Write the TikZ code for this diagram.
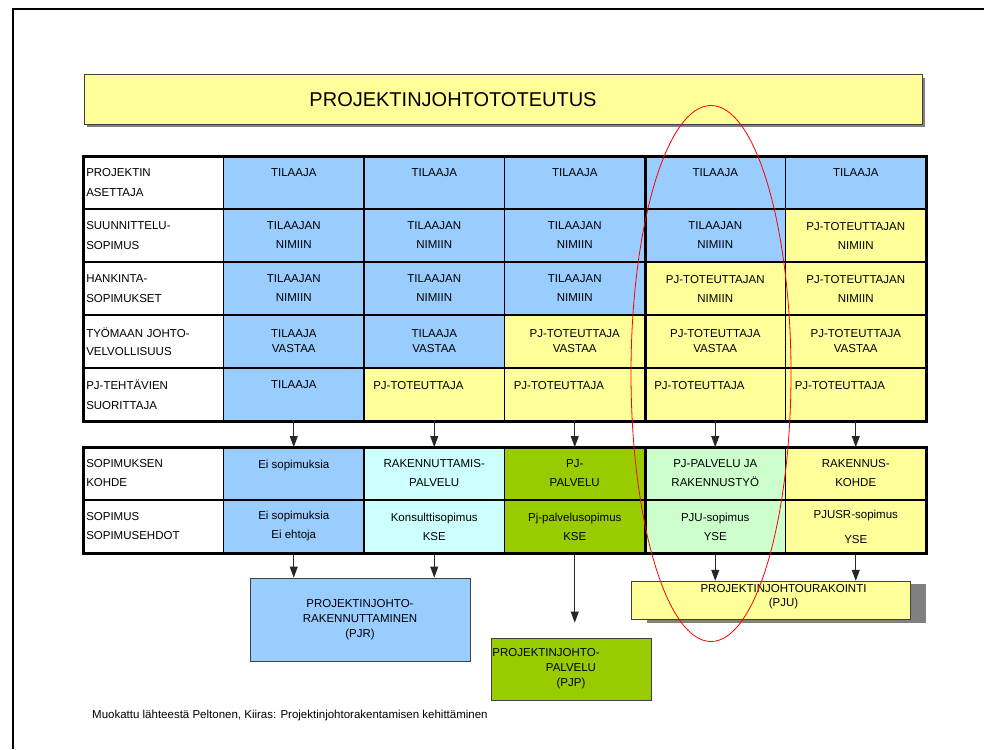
\documentclass[tikz,border=0pt]{standalone}
\usepackage{fontspec}
\setmainfont{Liberation Sans}
\usetikzlibrary{positioning}
\usetikzlibrary{arrows.meta}
\usetikzlibrary{shadows}
\definecolor{blu}{HTML}{99CCFF}
\definecolor{yel}{HTML}{FFFF99}
\definecolor{cyn}{HTML}{CCFFFF}
\definecolor{grn}{HTML}{99CC00}
\definecolor{lgr}{HTML}{CCFFCC}
\begin{document}
\begin{tikzpicture}[x=1pt,y=-1pt,
  cell/.style={draw,line width=1.5pt,outer sep=0pt,inner sep=0pt,minimum width=140.5pt,minimum height=53pt,align=center,font=\fontsize{11.5}{19}\selectfont},
  lab/.style={cell,fill=white,align=left,text width=134pt,font=\fontsize{11.5}{20}\selectfont},
  vas/.style={align=left,text width=122pt},
  tiivis/.style={font=\fontsize{11.5}{15}\selectfont},
  box/.style={draw=black!75,line width=0.8pt,align=center,font=\fontsize{11.5}{15}\selectfont},
  arr/.style={-{Triangle[width=8pt,length=11pt]},line width=0.8pt,black!85}]
  \useasboundingbox (0,0) rectangle (984,749);
  \draw[line width=2pt] (13,749) -- (13,9) -- (984,9);

  \node[box,fill=yel,line width=1pt,minimum width=838pt,minimum height=49pt,font=\fontsize{20}{24}\selectfont,
    drop shadow={shadow xshift=3pt,shadow yshift=-3pt,fill=gray,opacity=1}] (otsikko) at (503,99.5) {PROJEKTINJOHTOTOTEUTUS\hspace*{100pt}};

  \node[lab,anchor=north west] (pa0) at (83,156) {PROJEKTIN\\ASETTAJA};
  \node[cell,fill=blu,right=0pt of pa0] (pa1) {TILAAJA\\\mbox{}};
  \node[cell,fill=blu,right=0pt of pa1] (pa2) {TILAAJA\\\mbox{}};
  \node[cell,fill=blu,right=0pt of pa2] (pa3) {TILAAJA\\\mbox{}};
  \node[cell,fill=blu,right=0pt of pa3] (pa4) {TILAAJA\\\mbox{}};
  \node[cell,fill=blu,right=0pt of pa4] (pa5) {TILAAJA\\\mbox{}};

  \node[lab,below=0pt of pa0] (su0) {SUUNNITTELU-\\SOPIMUS};
  \node[cell,fill=blu,right=0pt of su0] (su1) {TILAAJAN\\NIMIIN};
  \node[cell,fill=blu,right=0pt of su1] (su2) {TILAAJAN\\NIMIIN};
  \node[cell,fill=blu,right=0pt of su2] (su3) {TILAAJAN\\NIMIIN};
  \node[cell,fill=blu,right=0pt of su3] (su4) {TILAAJAN\\NIMIIN};
  \node[cell,fill=yel,right=0pt of su4] (su5) {PJ-TOTEUTTAJAN\\NIMIIN};

  \node[lab,below=0pt of su0] (ha0) {HANKINTA-\\SOPIMUKSET};
  \node[cell,fill=blu,right=0pt of ha0] (ha1) {TILAAJAN\\NIMIIN};
  \node[cell,fill=blu,right=0pt of ha1] (ha2) {TILAAJAN\\NIMIIN};
  \node[cell,fill=blu,right=0pt of ha2] (ha3) {TILAAJAN\\NIMIIN};
  \node[cell,fill=yel,right=0pt of ha3] (ha4) {PJ-TOTEUTTAJAN\\NIMIIN};
  \node[cell,fill=yel,right=0pt of ha4] (ha5) {PJ-TOTEUTTAJAN\\NIMIIN};

  \node[lab,below=0pt of ha0,font=\fontsize{11.5}{18}\selectfont] (ty0) {TYÖMAAN JOHTO-\\VELVOLLISUUS};
  \node[cell,tiivis,fill=blu,right=0pt of ty0] (ty1) {TILAAJA\\VASTAA};
  \node[cell,tiivis,fill=blu,right=0pt of ty1] (ty2) {TILAAJA\\VASTAA};
  \node[cell,tiivis,fill=yel,right=0pt of ty2] (ty3) {PJ-TOTEUTTAJA\\VASTAA};
  \node[cell,tiivis,fill=yel,right=0pt of ty3] (ty4) {PJ-TOTEUTTAJA\\VASTAA};
  \node[cell,tiivis,fill=yel,right=0pt of ty4] (ty5) {PJ-TOTEUTTAJA\\VASTAA};

  \node[lab,below=0pt of ty0] (pj0) {PJ-TEHTÄVIEN\\SUORITTAJA};
  \node[cell,fill=blu,right=0pt of pj0] (pj1) {TILAAJA\\\mbox{}};
  \node[cell,vas,fill=yel,right=0pt of pj1] (pj2) {PJ-TOTEUTTAJA\\\mbox{}};
  \node[cell,vas,fill=yel,right=0pt of pj2] (pj3) {PJ-TOTEUTTAJA\\\mbox{}};
  \node[cell,vas,fill=yel,right=0pt of pj3] (pj4) {PJ-TOTEUTTAJA\\\mbox{}};
  \node[cell,vas,fill=yel,right=0pt of pj4] (pj5) {PJ-TOTEUTTAJA\\\mbox{}};

  \draw[line width=3pt] (pa0.north west) rectangle (pj5.south east);
  \draw[line width=3pt] (pa4.north west) -- (pj4.south west);

  \node[lab,below=26pt of pj0,font=\fontsize{11.5}{19}\selectfont] (ko0) {SOPIMUKSEN\\KOHDE};
  \node[cell,fill=blu,right=0pt of ko0] (ko1) {Ei sopimuksia\\\mbox{}};
  \node[cell,fill=cyn,right=0pt of ko1] (ko2) {RAKENNUTTAMIS-\\PALVELU};
  \node[cell,fill=grn,right=0pt of ko2] (ko3) {PJ-\\PALVELU};
  \node[cell,fill=lgr,right=0pt of ko3] (ko4) {PJ-PALVELU JA\\RAKENNUSTYÖ};
  \node[cell,fill=yel,right=0pt of ko4] (ko5) {RAKENNUS-\\KOHDE};

  \node[lab,below=0pt of ko0,font=\fontsize{11.5}{19}\selectfont] (eh0) {SOPIMUS\\SOPIMUSEHDOT};
  \node[cell,fill=blu,right=0pt of eh0] (eh1) {Ei sopimuksia\\Ei ehtoja};
  \node[cell,fill=cyn,right=0pt of eh1] (eh2) {Konsulttisopimus\\KSE};
  \node[cell,fill=grn,right=0pt of eh2] (eh3) {Pj-palvelusopimus\\KSE};
  \node[cell,fill=lgr,right=0pt of eh3] (eh4) {PJU-sopimus\\YSE};
  \node[cell,fill=yel,right=0pt of eh4] (eh5) {PJUSR-sopimus\\[6pt]YSE};

  \draw[line width=3pt] (ko0.north west) rectangle (eh5.south east);
  \draw[line width=3pt] (ko4.north west) -- (eh4.south west);

  \node[box,fill=blu,minimum width=220pt,minimum height=83pt] (pjr) at (360,619.5) {PROJEKTINJOHTO-\\RAKENNUTTAMINEN\\(PJR)};
  \node[box,fill=grn,minimum width=160pt,minimum height=62pt] (pjp) at (571,669) {\hspace*{-50pt}PROJEKTINJOHTO-\\PALVELU\\(PJP)};
  \node[box,fill=yel,minimum width=279pt,minimum height=37pt,font=\fontsize{11.5}{14}\selectfont,
    drop shadow={shadow xshift=16pt,shadow yshift=-3pt,fill=gray,opacity=1}] (pju) at (770.5,600.5) {\hspace*{26pt}PROJEKTINJOHTOURAKOINTI\\\hspace*{26pt}(PJU)\\[-4pt]\mbox{}};

  \draw[arr] (pj1.south) -- (ko1.north);
  \draw[arr] (pj2.south) -- (ko2.north);
  \draw[arr] (pj3.south) -- (ko3.north);
  \draw[arr] (pj4.south) -- (ko4.north);
  \draw[arr] (pj5.south) -- (ko5.north);
  \draw[arr,shorten <=2pt] (eh1.south) -- (eh1.south |- pjr.north);
  \draw[arr,shorten <=2pt] (eh2.south) -- (eh2.south |- pjr.north);
  \draw[arr,shorten <=2pt,shorten >=15pt] (eh3.south) -- (eh3.south |- pjp.north);
  \draw[arr,shorten <=2pt] (eh4.south) -- (eh4.south |- pju.north);
  \draw[arr,shorten <=2pt] (eh5.south) -- (eh5.south |- pju.north);

  \node[anchor=west,inner sep=0pt,font=\fontsize{11.5}{13}\selectfont] (lahde) at (92,716) {Muokattu lähteestä Peltonen, Kiiras: Projektinjohtorakentamisen kehittäminen};

  \draw[red,line width=0.8pt] (711,373.5) ellipse [x radius=80pt,y radius=268pt];
\end{tikzpicture}
\end{document}
